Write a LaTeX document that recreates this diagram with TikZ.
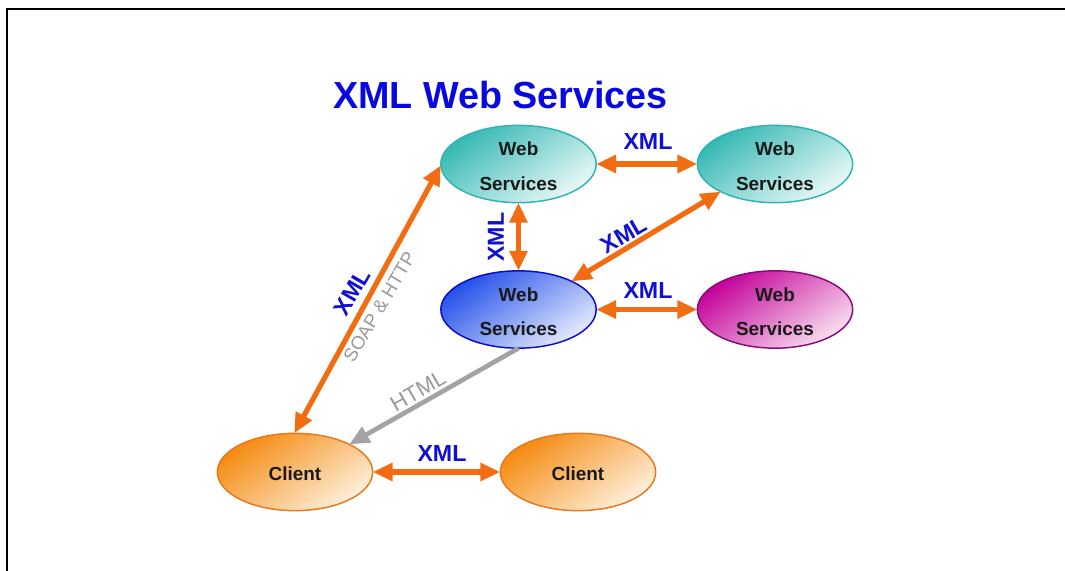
\documentclass[tikz,border=0pt]{standalone}
\usepackage{fontspec}
\setmainfont{Liberation Sans}
\usetikzlibrary{shapes.geometric,arrows.meta}
\definecolor{tealA}{HTML}{35B8B4}
\definecolor{tealM}{HTML}{70D0CC}
\definecolor{tealB}{HTML}{EAF9F7}
\definecolor{tealE}{HTML}{2FB3B3}
\definecolor{blueA}{HTML}{2450EA}
\definecolor{blueM}{HTML}{7C98F2}
\definecolor{blueB}{HTML}{E4EBFC}
\definecolor{blueE}{HTML}{0A0AD0}
\definecolor{magA}{HTML}{C4009A}
\definecolor{magM}{HTML}{DC60BC}
\definecolor{magB}{HTML}{F9E0F0}
\definecolor{magE}{HTML}{8A0A7A}
\definecolor{orA}{HTML}{F58A10}
\definecolor{orM}{HTML}{F9B05C}
\definecolor{orB}{HTML}{FEF0DC}
\definecolor{orE}{HTML}{E8781E}
\definecolor{arrowOr}{HTML}{F26C12}
\definecolor{arrowGr}{HTML}{A3A3A3}
\definecolor{labelBlue}{HTML}{1010D0}
\definecolor{titleBlue}{HTML}{0808E0}
\definecolor{labelGr}{HTML}{9A9A9A}
\tikzset{
  x=0.75pt,y=-0.75pt,
  blob/.style={ellipse,draw,line width=1.1pt,inner sep=0pt,outer sep=0pt,minimum width=116.5pt,minimum height=58pt,
    align=center,text=black!90,font=\fontsize{14.2}{26}\selectfont\bfseries},
  twoline/.style={text height=39.6pt,text depth=0.2pt},
  oneline/.style={text height=13.2pt,text depth=0.2pt},
  tealblob/.style={blob,twoline,draw=tealE,top color=tealA,middle color=tealM,bottom color=tealB,shading angle=35},
  blueblob/.style={blob,twoline,draw=blueE,top color=blueA,middle color=blueM,bottom color=blueB,shading angle=35},
  magblob/.style={blob,twoline,draw=magE,top color=magA,middle color=magM,bottom color=magB,shading angle=35},
  orblob/.style={blob,oneline,draw=orE,top color=orA,middle color=orM,bottom color=orB,shading angle=35},
  link/.style={line width=3.9pt,draw=arrowOr,{Triangle[length=15pt,width=13pt]}-{Triangle[length=15pt,width=13pt]}},
  glink/.style={line width=3.5pt,draw=arrowGr,-{Triangle[length=15pt,width=13pt]}},
  xmltag/.style={text=labelBlue,inner sep=0pt,font=\fontsize{17.4}{20}\selectfont\bfseries},
  graytag/.style={text=labelGr,inner sep=0pt,font=\fontsize{14}{16}\selectfont},
}
\begin{document}
\begin{tikzpicture}
\useasboundingbox (0,0) rectangle (1065,571);
\fill[white] (0,0) rectangle (1065,571);
\draw[line width=1.6pt,black] (7,571) -- (7,9.3) -- (1065,9.3);
\node[text=titleBlue,inner sep=0pt,font=\fontsize{28.3}{32}\selectfont\bfseries] (title) at (500.5,95) {XML Web Services};
\node[tealblob] (n1) at (518.5,164) {Web\\Services};
\node[tealblob] (n2) at (775,164) {Web\\Services};
\node[blueblob] (n3) at (518.5,309.5) {Web\\Services};
\node[magblob] (n4) at (775,309.5) {Web\\Services};
\node[orblob] (c1) at (295,472) {Client};
\node[orblob] (c2) at (578,472) {Client};
\draw[link] (n1.east) -- (n2.west);
\draw[link] (n3.east) -- (n4.west);
\draw[link] (n1.south) -- (n3.north);
\draw[link] (n3.28) -- (n2.207);
\draw[link] (n1.181) -- (c1.91);
\draw[link] (c1.east) -- (c2.west);
\draw[glink] (n3.south) -- (c1.27);
\node[xmltag] (x1) at (648,142) {XML};
\node[xmltag] (x2) at (648,291) {XML};
\node[xmltag,rotate=90] (x3) at (496,237) {XML};
\node[xmltag,rotate=30] (x4) at (624,235) {XML};
\node[xmltag,rotate=60] (x5) at (352,292) {XML};
\node[xmltag] (x6) at (442,454) {XML};
\node[graytag,rotate=59.5] (soap) at (379.5,307) {SOAP \& HTTP};
\node[graytag,rotate=30,font=\fontsize{16.5}{18}\selectfont] (html) at (418,391) {HTML};
\end{tikzpicture}
\end{document}
